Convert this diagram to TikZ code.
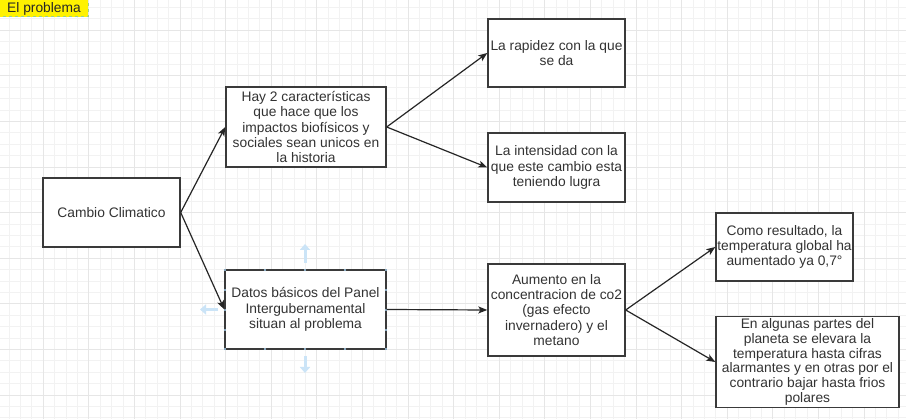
\documentclass[tikz,border=0pt]{standalone}
\usepackage{fontspec}
\setmainfont{Liberation Sans}
\usetikzlibrary{arrows.meta}
\definecolor{gridminor}{HTML}{F2F2F2}
\definecolor{gridmajor}{HTML}{E6E6E6}
\definecolor{boxline}{HTML}{3A3A3A}
\definecolor{txt}{HTML}{333333}
\definecolor{hoverblue}{HTML}{CBE4F7}
\definecolor{dotblue}{HTML}{A8D2F2}
\definecolor{labelgreen}{HTML}{9BD08A}
\tikzset{
  box/.style={draw=boxline, line width=1.4pt, fill=white, inner sep=0pt,
    align=center, text=txt, font=\fontsize{13.8}{15.4}\selectfont},
  conn/.style={draw=black!85, line width=1.2pt,
    -{Stealth[length=9pt,width=7pt,inset=2.2pt]}},
  hover/.style={draw=hoverblue, line width=3pt,
    -{Triangle[length=6pt,width=10pt]}},
  hdot/.style={fill=dotblue, draw=none, circle, inner sep=0pt, minimum size=2.2pt}
}
\begin{document}
\begin{tikzpicture}[x=1pt,y=-1pt]
\useasboundingbox (0,0) rectangle (906,419);
\fill[white] (0,0) rectangle (906,419);
% grid
\foreach \i in {0,...,79} {\draw[gridminor, line width=0.7pt] ({9+\i*11.4},0) -- ({9+\i*11.4},419);}
\foreach \i in {0,...,37} {\draw[gridminor, line width=0.7pt] (0,{7.4+\i*11.4}) -- (906,{7.4+\i*11.4});}
\foreach \i in {0,...,20} {\draw[gridmajor, line width=0.7pt] ({-2.4+\i*45.6},0) -- ({-2.4+\i*45.6},419);}
\foreach \i in {0,...,9} {\draw[gridmajor, line width=0.7pt] (0,{30.2+\i*45.6}) -- (906,{30.2+\i*45.6});}

% title label
\draw[fill=yellow, draw=labelgreen, dashed, line width=1pt] (-2,-2) rectangle (88,17);
\node[anchor=base west, inner sep=0pt, text=black!85, font=\fontsize{13.8}{15.4}\selectfont] (title) at (7,13) {El problema};

% boxes
\node[box, minimum width=137pt, minimum height=69pt] (cambio) at (111.5,212.5) {Cambio Climatico};
\node[box, minimum width=160pt, minimum height=80pt] (hay) at (306,127) {Hay 2 características\\que hace que los\\impactos biofísicos y\\sociales sean unicos en\\la historia};
\node[box, minimum width=137pt, minimum height=68pt] (rap) at (556.5,53) {La rapidez con la que\\se da};
\node[box, minimum width=137pt, minimum height=69pt] (inten) at (556.5,167.5) {La intensidad con la\\que este cambio esta\\teniendo lugra};

% hover artifacts around Datos box
\draw[hover] (305,263) -- (305,244);
\draw[hover] (305,356) -- (305,373);
\draw[hover] (218,309.5) -- (200,309.5);

\node[box, minimum width=161pt, minimum height=79pt] (datos) at (305.5,309.5) {Datos básicos del Panel\\Intergubernamental\\situan al problema};
\foreach \x in {225,265,305,345,386} {\node[hdot] at (\x,270) {}; \node[hdot] at (\x,349) {};}
\foreach \y in {290,310,330} {\node[hdot] at (225,\y) {}; \node[hdot] at (386,\y) {};}

\node[box, minimum width=137pt, minimum height=92pt] (aum) at (556.5,310) {Aumento en la\\concentracion de co2\\(gas efecto\\invernadero) y el\\metano};
\node[box, minimum width=137pt, minimum height=68pt] (como) at (784.5,247) {Como resultado, la\\temperatura global ha\\aumentado ya 0,7°};
\node[box, minimum width=183pt, minimum height=91pt, font=\fontsize{13.8}{14.8}\selectfont] (alg) at (807.5,362) {En algunas partes del\\planeta se elevara la\\temperatura hasta cifras\\alarmantes y en otras por el\\contrario bajar hasta frios\\polares};

% connectors
\draw[conn] (cambio.east) -- (hay.west);
\draw[conn] (cambio.east) -- (datos.west);
\draw[conn] (hay.east) -- (rap.west);
\draw[conn] (hay.east) -- (inten.west);
\draw[conn] (datos.east) -- (aum.west);
\draw[conn] (aum.east) -- (como.west);
\draw[conn] (aum.east) -- (alg.west);
\end{tikzpicture}
\end{document}
